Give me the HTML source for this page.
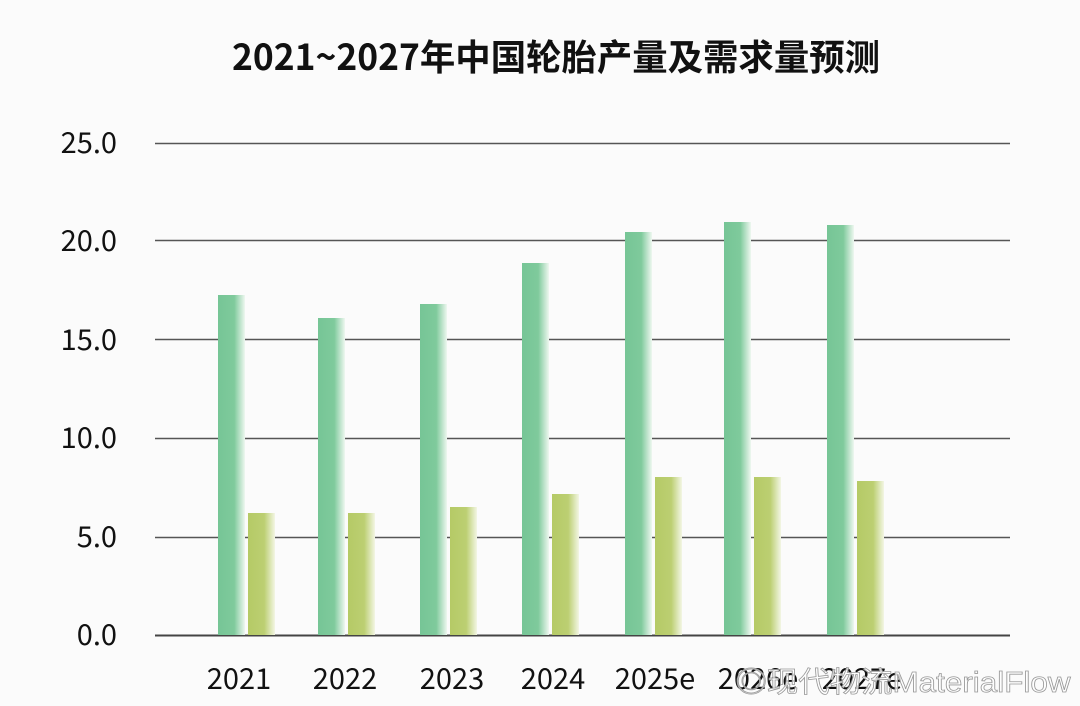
<!DOCTYPE html>
<html><head><meta charset="utf-8"><style>
html,body{margin:0;padding:0;background:#fbfbfb;}
svg{display:block;font-family:"Liberation Sans","Noto Sans CJK SC",sans-serif;}
</style></head><body>
<svg width="1080" height="706" viewBox="0 0 1080 706" xmlns="http://www.w3.org/2000/svg">
<defs>
<linearGradient id="g" x1="0" x2="1" y1="0" y2="0">
<stop offset="0" stop-color="#76c596"/><stop offset="0.6" stop-color="#7fca9c"/><stop offset="1" stop-color="#eef7f0"/></linearGradient>
<linearGradient id="y" x1="0" x2="1" y1="0" y2="0">
<stop offset="0" stop-color="#b5ca66"/><stop offset="0.6" stop-color="#bccf72"/><stop offset="1" stop-color="#f3f6e4"/></linearGradient>
</defs>
<rect width="1080" height="706" fill="#fbfbfb"/>
<text x="556" y="70" text-anchor="middle" font-size="36" font-weight="bold" fill="#111" textLength="648" lengthAdjust="spacingAndGlyphs" font-family="'Noto Sans CJK SC',sans-serif">2021~2027年中国轮胎产量及需求量预测</text>
<g stroke="#555" stroke-width="1.5">
<line x1="155" x2="1010" y1="143.5" y2="143.5"/>
<line x1="155" x2="1010" y1="240.5" y2="240.5"/>
<line x1="155" x2="1010" y1="339.5" y2="339.5"/>
<line x1="155" x2="1010" y1="438.5" y2="438.5"/>
<line x1="155" x2="1010" y1="537.5" y2="537.5"/>
<line x1="155" x2="1010" y1="635.5" y2="635.5" stroke="#444" stroke-width="2"/>
</g>
<g font-size="29" fill="#111" text-anchor="end" font-family="'Noto Sans CJK SC',sans-serif">
<text x="117" y="153">25.0</text><text x="117" y="251">20.0</text><text x="117" y="350">15.0</text>
<text x="117" y="448">10.0</text><text x="117" y="547">5.0</text><text x="117" y="645">0.0</text>
</g>
<g>
<rect x="218" y="295" width="27" height="340" fill="url(#g)"/><rect x="248" y="513" width="27" height="122" fill="url(#y)"/>
<rect x="318" y="318" width="27" height="317" fill="url(#g)"/><rect x="348" y="513" width="27" height="122" fill="url(#y)"/>
<rect x="420" y="304" width="27" height="331" fill="url(#g)"/><rect x="450" y="507" width="27" height="128" fill="url(#y)"/>
<rect x="522" y="263" width="27" height="372" fill="url(#g)"/><rect x="552" y="494" width="27" height="141" fill="url(#y)"/>
<rect x="625" y="232" width="27" height="403" fill="url(#g)"/><rect x="655" y="477" width="27" height="158" fill="url(#y)"/>
<rect x="724" y="222" width="27" height="413" fill="url(#g)"/><rect x="754" y="477" width="27" height="158" fill="url(#y)"/>
<rect x="827" y="225" width="27" height="410" fill="url(#g)"/><rect x="857" y="481" width="27" height="154" fill="url(#y)"/>
</g>
<g font-size="29" fill="#111" text-anchor="middle" font-family="'Noto Sans CJK SC',sans-serif">
<text x="239" y="689">2021</text><text x="345" y="689">2022</text><text x="452" y="689">2023</text>
<text x="553" y="689">2024</text><text x="655" y="689">2025e</text><text x="758" y="689">2026e</text><text x="862" y="689">2027e</text>
</g>
<text x="903" y="692" text-anchor="middle" font-size="29" fill="#fff" fill-opacity="0.8" stroke="#999" stroke-width="0.8" textLength="335" lengthAdjust="spacingAndGlyphs" font-family="'Liberation Sans','Noto Sans CJK SC',sans-serif">◎现代物流MaterialFlow</text>
</svg>
</body></html>
